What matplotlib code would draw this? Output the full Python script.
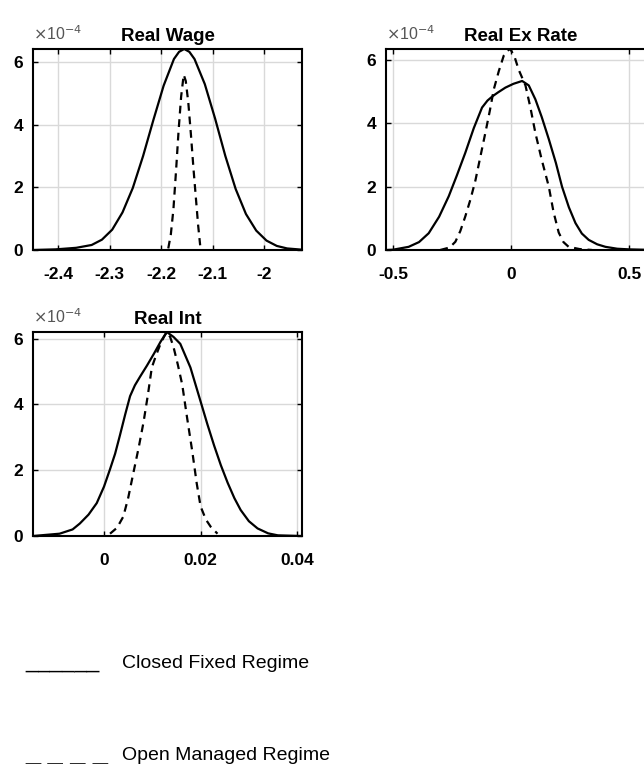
import matplotlib
matplotlib.use("Agg")
import matplotlib.pyplot as plt

plt.rcParams.update({
    "font.family": ["Liberation Sans", "DejaVu Sans"],
    "axes.linewidth": 1.5,
    "xtick.direction": "in",
    "ytick.direction": "in",
    "xtick.top": True,
    "ytick.right": True,
    "xtick.major.size": 3.5,
    "ytick.major.size": 3.5,
})

# densities in units of 1e-4
wage_closed_x = [-2.449, -2.405, -2.365, -2.335, -2.315, -2.295, -2.275, -2.255, -2.235, -2.215,
                 -2.195, -2.175, -2.165, -2.155, -2.145, -2.135, -2.115, -2.095, -2.075, -2.055,
                 -2.035, -2.015, -1.995, -1.975, -1.955, -1.926]
wage_closed_y = [0.0, 0.02, 0.07, 0.16, 0.33, 0.65, 1.2, 1.98, 3.0, 4.15,
                 5.25, 6.1, 6.33, 6.42, 6.33, 6.1, 5.3, 4.2, 3.0, 1.95,
                 1.15, 0.62, 0.3, 0.13, 0.05, 0.01]
wage_open_x = [-2.186, -2.181, -2.176, -2.171, -2.166, -2.161, -2.156, -2.152, -2.147,
               -2.142, -2.137, -2.132, -2.128, -2.124]
wage_open_y = [0.05, 0.5, 1.3, 2.5, 3.8, 4.9, 5.6, 5.4, 4.7, 3.7, 2.6, 1.6, 0.8, 0.15]

exr_closed_x = [-0.53, -0.5, -0.434, -0.39, -0.349, -0.305, -0.264, -0.23, -0.194, -0.158,
                -0.123, -0.1, -0.078, -0.055, -0.024, 0.01, 0.047, 0.075, 0.103, 0.13, 0.16,
                0.19, 0.216, 0.245, 0.273, 0.3, 0.329, 0.365, 0.4, 0.45, 0.5, 0.61]
exr_closed_y = [0.0, 0.01, 0.1, 0.25, 0.53, 1.05, 1.7, 2.35, 3.07, 3.85,
                4.5, 4.72, 4.86, 4.98, 5.13, 5.25, 5.34, 5.2, 4.76, 4.2, 3.5,
                2.75, 2.0, 1.35, 0.85, 0.52, 0.32, 0.18, 0.1, 0.04, 0.02, 0.0]
exr_open_x = [-0.3, -0.26, -0.236, -0.215, -0.194, -0.172, -0.151, -0.13, -0.109, -0.09,
              -0.073, -0.052, -0.031, -0.015, -0.003, 0.015, 0.032, 0.061, 0.082, 0.103,
              0.13, 0.16, 0.18, 0.202, 0.222, 0.244, 0.29, 0.343]
exr_open_y = [0.0, 0.08, 0.26, 0.6, 1.06, 1.6, 2.2, 2.95, 3.7, 4.4,
              5.08, 5.65, 6.14, 6.3, 6.35, 6.1, 5.7, 5.2, 4.5, 3.7,
              2.85, 2.0, 1.2, 0.55, 0.25, 0.1, 0.03, 0.0]

int_closed_x = [-0.0147, -0.0092, -0.0065, -0.005, -0.0032, -0.0015, 0.0, 0.00125, 0.0023,
                0.0033, 0.0044, 0.0054, 0.0064, 0.0075, 0.0089, 0.0103, 0.0117, 0.013, 0.0144,
                0.0158, 0.0179, 0.02, 0.0214, 0.0228, 0.0242, 0.0256, 0.027, 0.0283,
                0.03, 0.0318, 0.034, 0.036, 0.0408]
int_closed_y = [0.0, 0.07, 0.2, 0.38, 0.65, 1.0, 1.5, 2.03, 2.5,
                3.06, 3.7, 4.25, 4.58, 4.85, 5.18, 5.53, 5.9, 6.2, 6.05,
                5.84, 5.12, 4.09, 3.4, 2.75, 2.15, 1.62, 1.15, 0.79,
                0.45, 0.23, 0.08, 0.02, 0.0]
int_open_x = [0.00125, 0.0027, 0.004, 0.005, 0.0061, 0.0072, 0.0082, 0.0091, 0.0099,
              0.0108, 0.0117, 0.0124, 0.013, 0.0137, 0.0144, 0.0153, 0.0162, 0.0172,
              0.0183, 0.0192, 0.02, 0.0211, 0.0221, 0.0235]
int_open_y = [0.07, 0.25, 0.59, 1.15, 1.93, 2.7, 3.47, 4.3, 5.12,
              5.5, 5.84, 6.05, 6.2, 6.05, 5.74, 5.2, 4.6, 3.6,
              2.55, 1.6, 0.9, 0.5, 0.28, 0.07]

panels = [
    ("Real Wage", wage_closed_x, wage_closed_y, wage_open_x, wage_open_y,
     (-2.449, -1.926), [-2.4, -2.3, -2.2, -2.1, -2.0], ["-2.4", "-2.3", "-2.2", "-2.1", "-2"]),
    ("Real Ex Rate", exr_closed_x, exr_closed_y, exr_open_x, exr_open_y,
     (-0.53, 0.61), [-0.5, 0.0, 0.5], ["-0.5", "0", "0.5"]),
    ("Real Int", int_closed_x, int_closed_y, int_open_x, int_open_y,
     (-0.0147, 0.041), [0.0, 0.02, 0.04], ["0", "0.02", "0.04"]),
]
y_ticks = [0, 2, 4, 6]

W, H = 644, 764
fig = plt.figure(figsize=(W / 100, H / 100), dpi=100)

# axes boxes in pixels: left, top, right, bottom
boxes = [(33, 49, 302, 250), (386, 49, 655, 250), (33, 332, 302, 536)]

for (title, cx, cy, ox, oy, xlim, xt, xtl), (l, t, r, b) in zip(panels, boxes):
    ax = fig.add_axes([l / W, 1 - b / H, (r - l) / W, (b - t) / H])
    ax.plot(cx, cy, color="black", lw=1.6, solid_joinstyle="round")
    ax.plot(ox, oy, color="black", lw=1.6, linestyle=(0, (3.5, 2.6)))
    ax.set_xlim(*xlim)
    ax.set_ylim(0, max(max(cy), max(oy)))
    ax.set_xticks(xt)
    ax.set_xticklabels(xtl)
    ax.set_yticks(y_ticks)
    ax.grid(True, color="#d9d9d9", lw=1.0)
    ax.set_axisbelow(True)
    ax.tick_params(axis="x", labelsize=12.5, pad=12, width=1.0)
    ax.tick_params(axis="y", labelsize=12.5, pad=7, width=1.0)
    for lab in ax.get_xticklabels() + ax.get_yticklabels():
        lab.set_fontweight("bold")
    ax.set_title(title, fontsize=13.5, fontweight="bold", pad=6)
    ax.text(0.0, 1.03, r"$\times$10$^{-4}$", transform=ax.transAxes,
            fontsize=11.5, color="#555555", ha="left", va="bottom")

# legend drawn as text, like the reference
fig.text(25 / W, 1 - 668 / H, "______", fontsize=16, va="baseline", ha="left")
fig.text(122 / W, 1 - 668 / H, "Closed Fixed Regime", fontsize=14, va="baseline", ha="left")
fig.text(25 / W, 1 - 759 / H, "_ _ _ _", fontsize=19.5, va="baseline", ha="left")
fig.text(122 / W, 1 - 760 / H, "Open Managed Regime", fontsize=14, va="baseline", ha="left")

fig.savefig("out.png", dpi=100)
